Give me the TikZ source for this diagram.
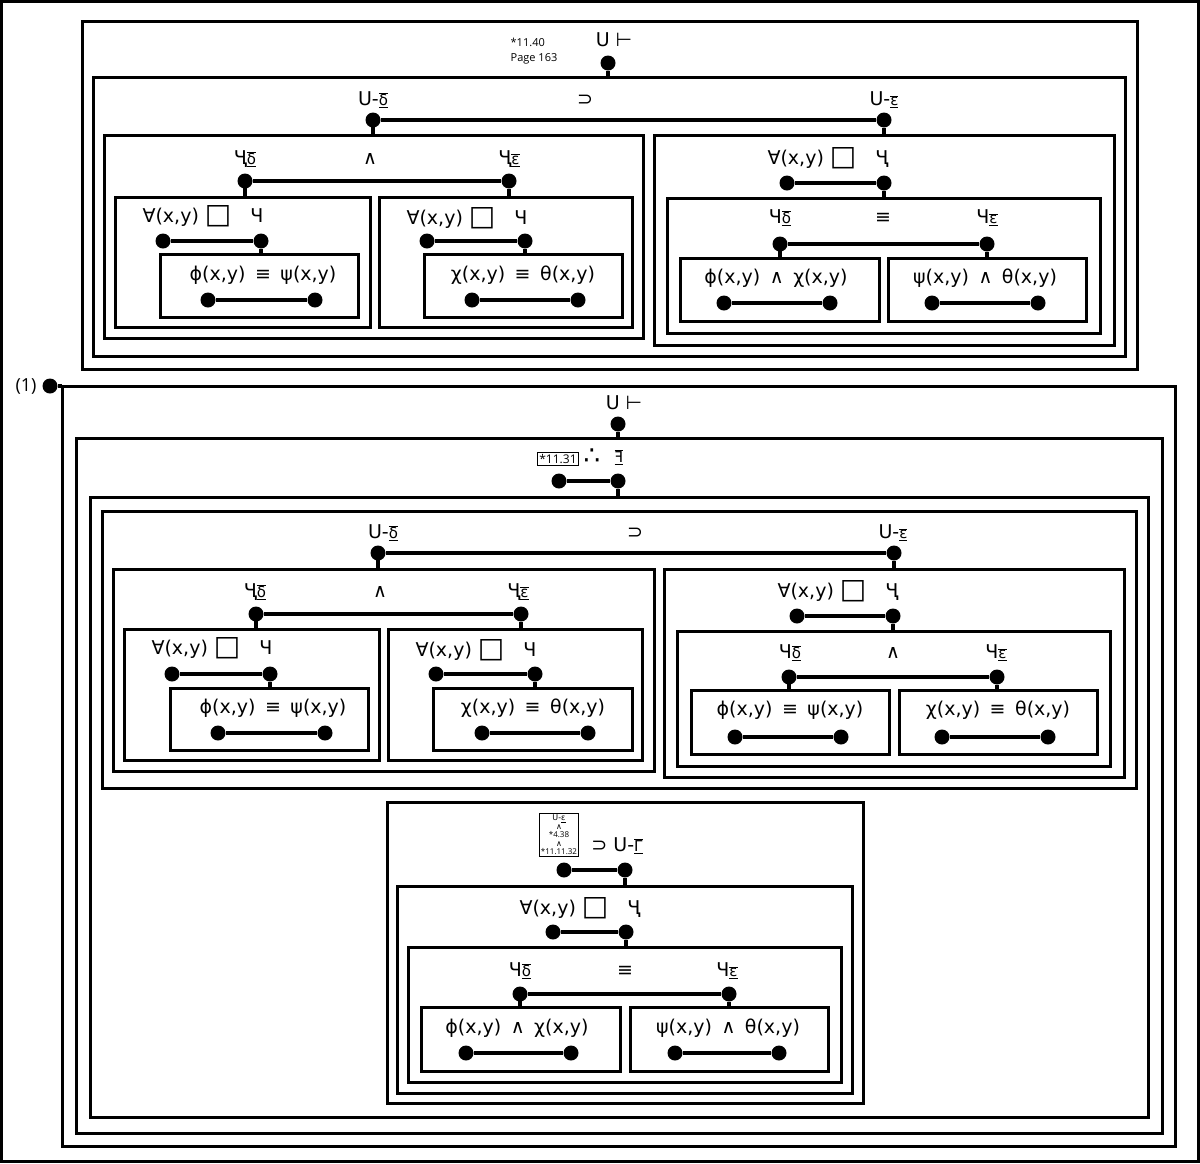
\documentclass[tikz,border=0pt]{standalone}
\usepackage{fontspec}
\setmainfont{DejaVu Sans}
\newfontfamily\os{Open Sans}
\newcounter{cnt}
\tikzset{box/.style={line width=3pt},ln/.style={line width=4pt},
dot/.style={circle,fill=black,inner sep=0pt,minimum size=15pt},
lbl/.style={inner sep=1pt,font=\fontsize{19}{21}\selectfont}}
\newcommand\ov[1]{\underline{$\overline{\hbox{\fontsize{15}{15}\selectfont #1}}$}}
\newcommand\bx[4]{\draw[box] (#1,#2) rectangle (#3,#4);}
\newcommand\lb[3]{\stepcounter{cnt}\node[lbl] (l\thecnt) at (#1,#2) {#3};}
\newcommand\cn[4]{\stepcounter{cnt}\node[dot](a\thecnt) at (#1,#3){};\node[dot](b\thecnt) at (#2,#3){};\coordinate(s\thecnt) at (#2,#4);\draw[ln](a\thecnt)--(b\thecnt);\draw[line width=3.5pt](b\thecnt)--(s\thecnt);}
\newcommand\st[3]{\stepcounter{cnt}\coordinate(p\thecnt) at (#1,#2);\coordinate(q\thecnt) at (#1,#3);\draw[line width=3.5pt](p\thecnt)--(q\thecnt);}
\newcommand\fa{∀(x,y) {\fontsize{28}{20}\selectfont\raisebox{-1pt}{□}}}
\begin{document}
\begin{tikzpicture}[x=1pt,y=-1pt]
\useasboundingbox (0,0) rectangle (1200,1163);
\bx{1.5}{1.5}{1198.5}{1161.5}
% ===== top =====
\bx{82}{21}{1137}{369}\bx{93}{77}{1125}{356}
\node[align=left,inner sep=0pt,font=\os\fontsize{11}{15}\selectfont] (ref1) at (534,51) {*11.40\\Page 163};
\lb{614}{40}{U ⊢}
\stepcounter{cnt}\node[dot](t1) at (608,63){};\coordinate(t1s) at (608,77);\draw[line width=3.5pt](t1)--(t1s);
\lb{373}{100}{U-\ov{δ}}\lb{585}{100}{⊃}\lb{884}{100}{U-\ov{ε}}
\cn{373}{884}{120}{135}\st{373}{120}{135}
\bx{104}{135}{643}{338}
\lb{245}{159}{Ҷ\ov{δ}}\lb{370}{159}{∧}\lb{509}{159}{Ҷ\ov{ε}}
\cn{245}{509}{181}{197}\st{245}{181}{197}
\bx{115}{197}{370}{327}
\lb{203}{216}{\fa\quad Ч}
\cn{163}{261}{241}{254}
\bx{160}{254}{358}{317}
\lb{263}{275}{ϕ(x,y)\enspace ≡\enspace ψ(x,y)}
\cn{208}{315}{300}{300}
\bx{379}{197}{632}{327}
\lb{467}{218}{\fa\quad Ч}
\cn{427}{525}{241}{254}
\bx{424}{254}{622}{317}
\lb{523}{275}{χ(x,y)\enspace ≡\enspace θ(x,y)}
\cn{472}{578}{300}{300}
\bx{654}{135}{1114}{345}
\lb{828}{158}{\fa\quad Ҷ}
\cn{787}{884}{183}{198}
\bx{667}{198}{1100}{333}
\lb{780}{218}{Ч\ov{δ}}\lb{883}{218}{≡}\lb{987}{218}{Ч\ov{ε}}
\cn{780}{987}{244}{258}\st{780}{244}{258}
\bx{680}{258}{879}{321}
\lb{776}{278}{ϕ(x,y)\enspace ∧\enspace χ(x,y)}
\cn{724}{830}{303}{303}
\bx{888}{258}{1086}{321}
\lb{985}{278}{ψ(x,y)\enspace ∧\enspace θ(x,y)}
\cn{932}{1038}{303}{303}
% ===== bottom =====
\node[lbl,font=\os\fontsize{18}{20}\selectfont] (one) at (26,386) {(1)};
\node[dot] (d1) at (50,386) {};\coordinate (d1e) at (62,386);\draw[ln] (d1)--(d1e);
\bx{62}{386}{1175}{1146}\bx{76}{438}{1162}{1133}\bx{90}{497}{1148}{1117}
\lb{624}{403}{U ⊢}
\stepcounter{cnt}\node[dot](t2) at (618,424){};\coordinate(t2s) at (618,438);\draw[line width=3.5pt](t2)--(t2s);
\node[draw,line width=1pt,inner sep=2pt,font=\os\fontsize{12}{14}\selectfont] (ref2) at (558,459) {*11.31};
\lb{592}{457}{\fontsize{26}{26}\selectfont ∴}\lb{619}{457}{\ov{ꟻ}}
\cn{559}{618}{481}{497}
\bx{102}{511}{1136}{788}
\lb{383}{533}{U-\ov{δ}}\lb{635}{533}{⊃}\lb{893}{533}{U-\ov{ε}}
\cn{378}{894}{553}{569}\st{378}{553}{569}
\bx{113}{569}{654}{771}
\lb{255}{592}{Ҷ\ov{δ}}\lb{380}{592}{∧}\lb{518}{592}{Ҷ\ov{ε}}
\cn{256}{521}{614}{629}\st{256}{614}{629}
\bx{124}{629}{379}{760}
\lb{212}{648}{\fa\quad Ч}
\cn{172}{270}{674}{688}
\bx{170}{688}{368}{750}
\lb{273}{708}{ϕ(x,y)\enspace ≡\enspace ψ(x,y)}
\cn{218}{325}{733}{733}
\bx{388}{629}{642}{760}
\lb{476}{650}{\fa\quad Ч}
\cn{436}{535}{674}{688}
\bx{433}{688}{632}{750}
\lb{533}{708}{χ(x,y)\enspace ≡\enspace θ(x,y)}
\cn{482}{588}{733}{733}
\bx{664}{569}{1124}{777}
\lb{838}{591}{\fa\quad Ҷ}
\cn{797}{893}{616}{631}
\bx{677}{631}{1110}{766}
\lb{790}{653}{Ч\ov{δ}}\lb{893}{653}{∧}\lb{996}{653}{Ч\ov{ε}}
\cn{789}{997}{677}{690}\st{789}{677}{690}
\bx{691}{690}{889}{754}
\lb{790}{710}{ϕ(x,y)\enspace ≡\enspace ψ(x,y)}
\cn{735}{841}{737}{737}
\bx{899}{690}{1097}{754}
\lb{998}{710}{χ(x,y)\enspace ≡\enspace θ(x,y)}
\cn{942}{1048}{737}{737}
\bx{387}{802}{863}{1103}
\node[draw,line width=1pt,inner sep=1.5pt,align=center,font=\fontsize{8}{8.5}\selectfont] (ref3) at (559,835) {U-\underline{ε}\\∧\\{\os *4.38}\\∧\\{\os *11.11.32}};
\lb{617}{846}{⊃ U-\ov{Γ}}
\cn{564}{625}{870}{886}
\bx{397}{886}{852}{1093}
\lb{580}{908}{\fa\quad Ҷ}
\cn{553}{626}{932}{947}
\bx{408}{947}{841}{1082}
\lb{520}{971}{Ч\ov{δ}}\lb{625}{971}{≡}\lb{727}{971}{Ч\ov{ε}}
\cn{520}{729}{994}{1007}\st{520}{994}{1007}
\bx{421}{1007}{620}{1071}
\lb{517}{1028}{ϕ(x,y)\enspace ∧\enspace χ(x,y)}
\cn{466}{571}{1053}{1053}
\bx{630}{1007}{828}{1071}
\lb{728}{1028}{ψ(x,y)\enspace ∧\enspace θ(x,y)}
\cn{675}{779}{1053}{1053}
\end{tikzpicture}
\end{document}
